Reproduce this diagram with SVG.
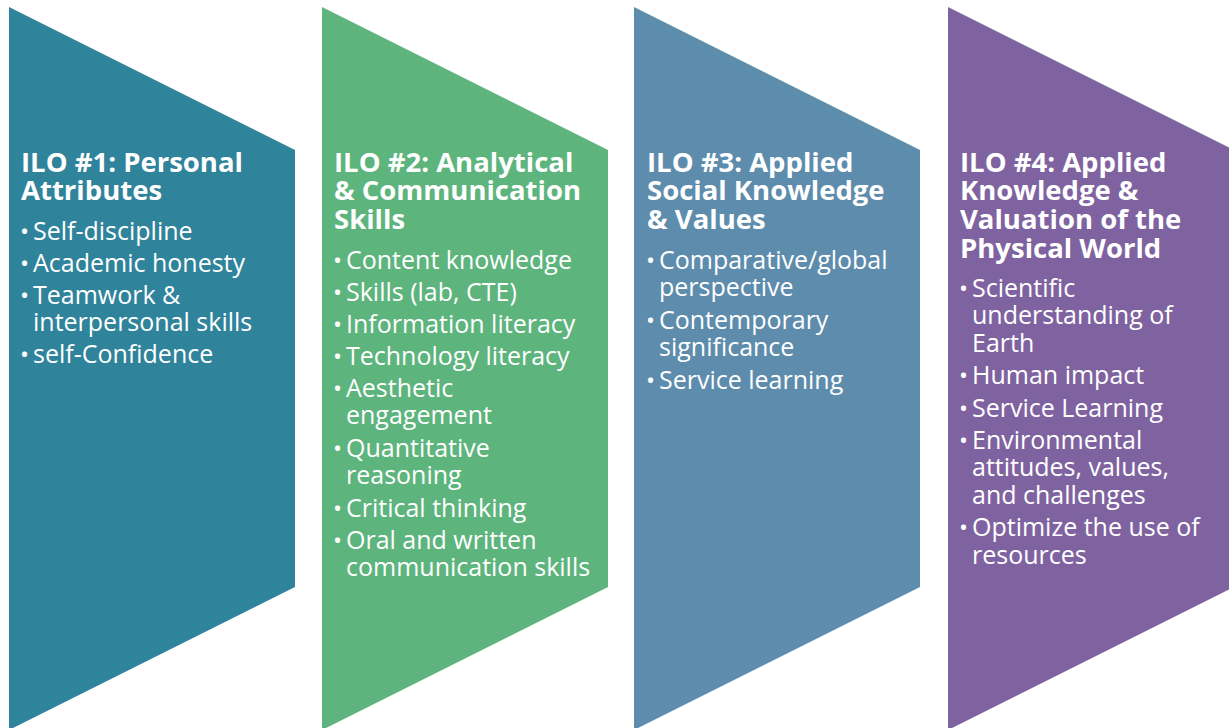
<svg xmlns="http://www.w3.org/2000/svg" width="1229" height="728" viewBox="0 0 1229 728">
<style>
.t{font-family:"Open Sans","Liberation Sans",sans-serif;font-weight:700;font-size:27.5px;fill:#fff}
.i{font-family:"Open Sans","Liberation Sans",sans-serif;font-size:25px;fill:#fff}
.b{font-family:"Open Sans","Liberation Sans",sans-serif;font-size:24px;fill:#fff}
</style>
<rect width="1229" height="728" fill="#fff"/>
<g id="ilo1">
<path d="M9,7 L295,150 L295,587 L9,730 Z" fill="#2F839B"/>
<text class="t"><tspan x="21" y="172">ILO #1: Personal</tspan><tspan x="21" y="200">Attributes</tspan></text>
<text class="b"><tspan x="20" y="240">•</tspan><tspan x="20" y="272">•</tspan><tspan x="20" y="304">•</tspan><tspan x="20" y="363">•</tspan></text>
<text class="i"><tspan x="33" y="240">Self-discipline</tspan><tspan x="33" y="272">Academic honesty</tspan><tspan x="33" y="304">Teamwork &amp;</tspan><tspan x="33" y="331">interpersonal skills</tspan><tspan x="33" y="363">self-Confidence</tspan></text>
</g>
<g id="ilo2">
<path d="M322,7 L608,150 L608,587 L322,730 Z" fill="#5DB47D"/>
<text class="t"><tspan x="334" y="172">ILO #2: Analytical</tspan><tspan x="334" y="200">&amp; Communication</tspan><tspan x="334" y="229">Skills</tspan></text>
<text class="b"><tspan x="333" y="269">•</tspan><tspan x="333" y="301">•</tspan><tspan x="333" y="333">•</tspan><tspan x="333" y="365">•</tspan><tspan x="333" y="397">•</tspan><tspan x="333" y="457">•</tspan><tspan x="333" y="517">•</tspan><tspan x="333" y="549">•</tspan></text>
<text class="i"><tspan x="346" y="269">Content knowledge</tspan><tspan x="346" y="301">Skills (lab, CTE)</tspan><tspan x="346" y="333">Information literacy</tspan><tspan x="346" y="365">Technology literacy</tspan><tspan x="346" y="397">Aesthetic</tspan><tspan x="346" y="424">engagement</tspan><tspan x="346" y="457">Quantitative</tspan><tspan x="346" y="484">reasoning</tspan><tspan x="346" y="517">Critical thinking</tspan><tspan x="346" y="549">Oral and written</tspan><tspan x="346" y="576">communication skills</tspan></text>
</g>
<g id="ilo3">
<path d="M634,7 L920,150 L920,587 L634,730 Z" fill="#5E8CAD"/>
<text class="t"><tspan x="647" y="172">ILO #3: Applied</tspan><tspan x="647" y="200">Social Knowledge</tspan><tspan x="647" y="229">&amp; Values</tspan></text>
<text class="b"><tspan x="646" y="269">•</tspan><tspan x="646" y="329">•</tspan><tspan x="646" y="389">•</tspan></text>
<text class="i"><tspan x="659" y="269">Comparative/global</tspan><tspan x="659" y="296">perspective</tspan><tspan x="659" y="329">Contemporary</tspan><tspan x="659" y="356">significance</tspan><tspan x="659" y="389">Service learning</tspan></text>
</g>
<g id="ilo4">
<path d="M948,7 L1234,150 L1234,587 L948,730 Z" fill="#7F63A0"/>
<text class="t"><tspan x="960" y="172">ILO #4: Applied</tspan><tspan x="960" y="200">Knowledge &amp;</tspan><tspan x="960" y="229">Valuation of the</tspan><tspan x="960" y="258">Physical World</tspan></text>
<text class="b"><tspan x="959" y="297">•</tspan><tspan x="959" y="384">•</tspan><tspan x="959" y="417">•</tspan><tspan x="959" y="449">•</tspan><tspan x="959" y="536">•</tspan></text>
<text class="i"><tspan x="972" y="297">Scientific</tspan><tspan x="972" y="324">understanding of</tspan><tspan x="972" y="352">Earth</tspan><tspan x="972" y="384">Human impact</tspan><tspan x="972" y="417">Service Learning</tspan><tspan x="972" y="449">Environmental</tspan><tspan x="972" y="476">attitudes, values,</tspan><tspan x="972" y="504">and challenges</tspan><tspan x="972" y="536">Optimize the use of</tspan><tspan x="972" y="564">resources</tspan></text>
</g>
<g id="connectors"/>
</svg>
